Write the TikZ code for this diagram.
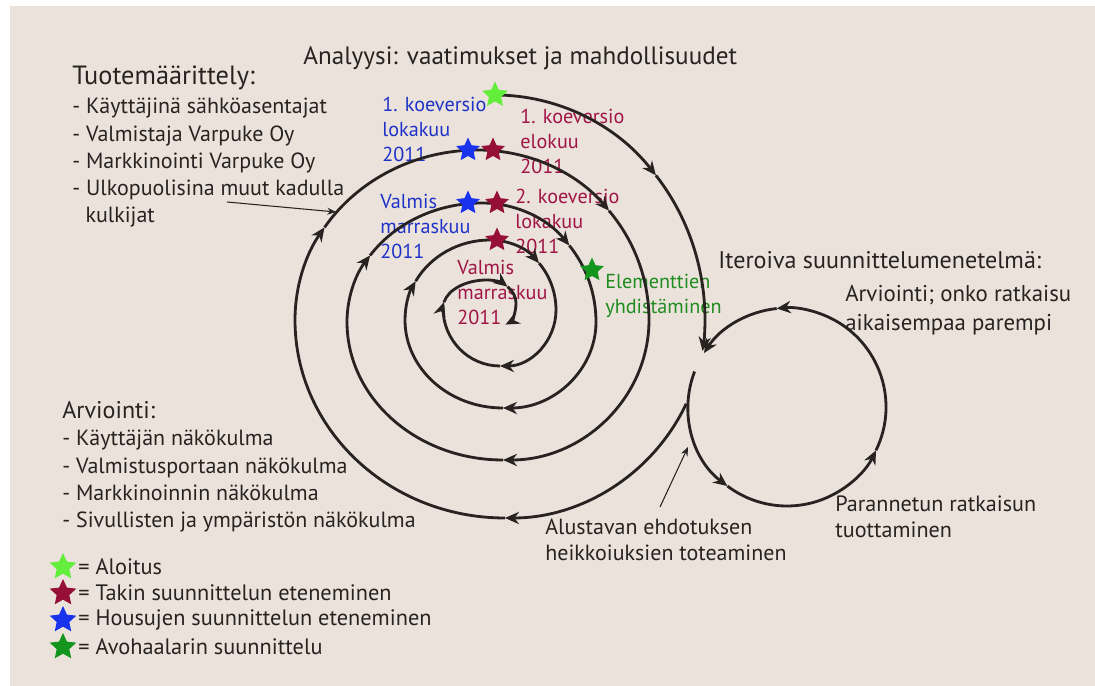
\documentclass[tikz,border=0pt]{standalone}
\usepackage{tikz}
\usepackage{xcolor}
\usepackage{fontspec}
\setmainfont{PT Sans}
\usetikzlibrary{arrows.meta,shapes.geometric}

\definecolor{paper}{RGB}{234,226,219}
\definecolor{ink}{RGB}{40,35,33}
\definecolor{startgreen}{RGB}{100,238,60}
\definecolor{takki}{RGB}{150,15,55}
\definecolor{housut}{RGB}{25,50,235}
\definecolor{avo}{RGB}{20,150,30}
\definecolor{takkitxt}{RGB}{160,20,70}
\definecolor{housutxt}{RGB}{30,50,200}
\definecolor{avotxt}{RGB}{30,140,30}

\begin{document}
\begin{tikzpicture}[x=0.02cm,y=0.02cm,
	spiral/.style={line width=1.6pt, draw=ink, -{Stealth[length=8pt,width=7pt]}},
	pointer/.style={line width=0.6pt, draw=ink, -{Stealth[length=5pt,width=4pt]}},
	txt/.style={anchor=north west, align=left, inner sep=0pt, text=ink, font=\fontsize{12.5}{15.5}\selectfont},
	head/.style={txt, anchor=west, font=\fontsize{#1}{#1}\selectfont},
	small/.style={txt, font=\fontsize{11.5}{14.2}\selectfont},
	mark/.style={star, star points=5, star point ratio=2.1, inner sep=0pt, minimum size=0.5cm, fill=#1}]
	
	\useasboundingbox (0,0) rectangle (1095,686);
	\fill[paper] (10,0) rectangle (1095,680);
	
	\node[head=14.3] (analyysi) at (303,628) {Analyysi: vaatimukset ja mahdollisuudet};
	\node[head=15] (tuotehead) at (72,608) {Tuotemäärittely:};
	\node[txt] (tuote) at (72,588) {- Käyttäjinä sähköasentajat\\- Valmistaja Varpuke Oy\\- Markkinointi Varpuke Oy\\- Ulkopuolisina muut kadulla\\\hspace*{0.6em}kulkijat};
	\node[head=13.7] (arviohead) at (62,276) {Arviointi:};
	\node[txt] (arvio) at (62,256) {- Käyttäjän näkökulma\\- Valmistusportaan näkökulma\\- Markkinoinnin näkökulma\\- Sivullisten ja ympäristön näkökulma};
	\node[head=13.7] (iter) at (718,426) {Iteroiva suunnittelumenetelmä:};
	\node[txt, font=\fontsize{13}{16.4}\selectfont] (arvio2) at (845,401) {Arviointi; onko ratkaisu\\aikaisempaa parempi};
	\node[txt, font=\fontsize{12.6}{15.3}\selectfont] (paranne) at (835,191) {Parannetun ratkaisun\\tuottaminen};
	\node[txt, font=\fontsize{12.5}{14.4}\selectfont] (alustava) at (545,167) {Alustavan ehdotuksen\\heikkoiuksien toteaminen};
	
	\node[small, text=housutxt] (h1) at (382,589) {1. koeversio\\lokakuu\\2011};
	\node[small, text=takkitxt] (t1) at (520,577) {1. koeversio\\elokuu\\2011};
	\node[small, text=housutxt] (h2) at (380,492) {Valmis\\marraskuu\\2011};
	\node[small, text=takkitxt] (t2) at (515,497) {2. koeversio\\lokakuu\\2011};
	\node[small, text=takkitxt] (t3) at (457,426) {Valmis\\marraskuu\\2011};
	\node[small, text=avotxt] (a1) at (605,412) {Elementtien\\yhdistäminen};
	
	\coordinate (T0) at (495,591);
	\draw[spiral] (T0) arc[start angle=90,end angle=40,x radius=210,y radius=225] coordinate (s1);
	\draw[spiral] (s1) arc[start angle=40,end angle=0,x radius=210,y radius=225] arc[start angle=0,end angle=-9,x radius=200,y radius=198] coordinate (s2);
	\draw[spiral] (505,366) ++(-25:200 and 198) arc[start angle=-25,end angle=-90,x radius=200,y radius=198] coordinate (s3);
	\draw[spiral] (s3) arc[start angle=-90,end angle=-180,x radius=210,y radius=198] arc[start angle=180,end angle=147,x radius=183,y radius=170] coordinate (s4);
	\draw[spiral] (s4) arc[start angle=147,end angle=90,x radius=183,y radius=170] arc[start angle=90,end angle=40,x radius=171,y radius=170] coordinate (s5);
	\draw[spiral] (s5) arc[start angle=40,end angle=0,x radius=171,y radius=170] arc[start angle=0,end angle=-90,x radius=146,y radius=140] coordinate (s6);
	\draw[spiral] (s6) arc[start angle=-90,end angle=-180,x radius=156,y radius=138] arc[start angle=180,end angle=146,x radius=135,y radius=119] coordinate (s7);
	\draw[spiral] (s7) arc[start angle=146,end angle=90,x radius=135,y radius=119] arc[start angle=90,end angle=40,x radius=114,y radius=119] coordinate (s8);
	\draw[spiral] (s8) arc[start angle=40,end angle=0,x radius=114,y radius=119] arc[start angle=0,end angle=-90,x radius=93,y radius=86] coordinate (s9);
	\draw[spiral] (s9) arc[start angle=-90,end angle=-180,x radius=98,y radius=88] arc[start angle=180,end angle=151,x radius=85,y radius=80] coordinate (s10);
	\draw[spiral] (s10) arc[start angle=151,end angle=90,x radius=85,y radius=80] arc[start angle=90,end angle=42,x radius=66,y radius=70] coordinate (s11);
	\draw[spiral] (s11) arc[start angle=42,end angle=0,x radius=66,y radius=70] arc[start angle=0,end angle=-90,x radius=56,y radius=56] coordinate (s12);
	\draw[spiral] (s12) arc[start angle=-90,end angle=-180,x radius=57,y radius=58] arc[start angle=180,end angle=168,x radius=44,y radius=28] coordinate (s13);
	\draw[spiral] (s13) arc[start angle=168,end angle=90,x radius=44,y radius=28] arc[start angle=90,end angle=45,x radius=29,y radius=23] coordinate (s14);
	\draw[spiral] (s14) arc[start angle=45,end angle=0,x radius=29,y radius=23] arc[start angle=0,end angle=-70,x radius=16,y radius=23];
	
	\coordinate (kierros) at (787,279);
	\draw[spiral] (kierros) ++(159:99) arc[start angle=159,end angle=233,radius=99] coordinate (c1);
	\draw[spiral] (c1) arc[start angle=233,end angle=334,radius=99] coordinate (c2);
	\draw[spiral] (c2) arc[start angle=334,end angle=456,radius=99] coordinate (c3);
	\draw[spiral] (c3) arc[start angle=456,end angle=507,radius=99];
	
	\coordinate (ulko) at (227,484);
	\coordinate (ulkoend) at (336,474);
	\draw[pointer] (ulko) -- (ulkoend);
	\coordinate (alus) at (660,179);
	\coordinate (alusend) at (688,239);
	\draw[pointer] (alus) -- (alusend);
	
	\node[mark=startgreen, minimum size=0.54cm] (aloitus) at (T0) {};
	\node[mark=housut] (hs1) at (468,536) {};
	\node[mark=takki] (ts1) at (493,536) {};
	\node[mark=housut] (hs2) at (468,483) {};
	\node[mark=takki] (ts2) at (497,483) {};
	\node[mark=takki] (ts3) at (497,446) {};
	\node[mark=avo] (as1) at (592,416) {};
	
	\node[mark=startgreen, minimum size=0.56cm] (l1) at (63,119) {};
	\node[mark=takki, minimum size=0.56cm] (l2) at (63,93) {};
	\node[mark=housut, minimum size=0.56cm] (l3) at (63,66) {};
	\node[mark=avo, minimum size=0.56cm] (l4) at (63,39) {};
	\node[head=12.7] (lt1) at (78,119) {= Aloitus};
	\node[head=12.7] (lt2) at (78,93) {= Takin suunnittelun eteneminen};
	\node[head=12.7] (lt3) at (78,66) {= Housujen suunnittelun eteneminen};
	\node[head=12.7] (lt4) at (78,39) {= Avohaalarin suunnittelu};
	
\end{tikzpicture}
\end{document}
